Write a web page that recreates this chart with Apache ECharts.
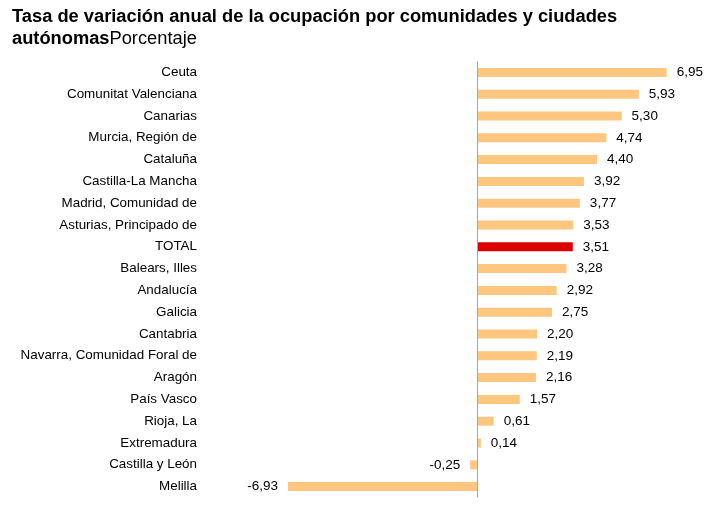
<!DOCTYPE html>
<html>
<head>
    <meta charset="utf-8">
    <script src="https://cdn.jsdelivr.net/npm/echarts@6/dist/echarts.min.js"></script>
    <style>
        body { margin: 0; background: #fff; }
    </style>
</head>
<body>
    <div id="chart" style="width: 722px;height:506px;"></div>
    <script type="text/javascript">
        var categorias = ['Ceuta', 'Comunitat Valenciana', 'Canarias', 'Murcia, Región de', 'Cataluña',
            'Castilla-La Mancha', 'Madrid, Comunidad de', 'Asturias, Principado de', 'TOTAL', 'Balears, Illes',
            'Andalucía', 'Galicia', 'Cantabria', 'Navarra, Comunidad Foral de', 'Aragón',
            'País Vasco', 'Rioja, La', 'Extremadura', 'Castilla y León', 'Melilla'];
        var valores = [6.95, 5.93, 5.30, 4.74, 4.40, 3.92, 3.77, 3.53, 3.51, 3.28,
            2.92, 2.75, 2.20, 2.19, 2.16, 1.57, 0.61, 0.14, -0.25, -6.93];

        var datos = valores.map(function (v, i) {
            return {
                value: v,
                itemStyle: { color: categorias[i] == 'TOTAL' ? '#DD0000' : '#FFC67F' },
                label: { position: v < 0 ? 'left' : 'right' }
            };
        });

        var option = {
            animation: false,
            title: {
                left: 12,
                top: 6,
                padding: 0,
                text: '{b|Tasa de variación anual de la ocupación por comunidades y ciudades}\n{b|autónomas}{n|Porcentaje}',
                textStyle: {
                    rich: {
                        b: { fontFamily: 'Liberation Sans', fontSize: 18.3, fontWeight: 'bold', color: '#000', lineHeight: 22 },
                        n: { fontFamily: 'Liberation Sans', fontSize: 18.3, fontWeight: 'normal', color: '#000', lineHeight: 22 }
                    }
                }
            },
            grid: {
                left: 286,
                right: 54,
                top: 61.5,
                height: 436
            },
            xAxis: {
                type: 'value',
                min: -7,
                max: 7,
                show: false
            },
            yAxis: {
                type: 'category',
                inverse: true,
                data: categorias,
                axisLine: { show: false },
                axisTick: { show: false },
                axisLabel: {
                    margin: 89,
                    color: '#000',
                    fontFamily: 'Liberation Sans',
                    fontSize: 13.4
                }
            },
            series: [{
                type: 'bar',
                data: datos,
                barWidth: 9,
                label: {
                    show: true,
                    distance: 10,
                    color: '#000',
                    fontFamily: 'Liberation Sans',
                    fontSize: 13.5,
                    formatter: function (p) {
                        return p.value.toFixed(2).replace('.', ',');
                    }
                },
                markLine: {
                    silent: true,
                    symbol: 'none',
                    label: { show: false },
                    lineStyle: { color: '#A6A6A6', type: 'solid', width: 1 },
                    data: [{ xAxis: 0 }]
                }
            }]
        };
        var myChart = echarts.init(document.getElementById("chart"));
        myChart.setOption(option);
    </script>
</body>
</html>
